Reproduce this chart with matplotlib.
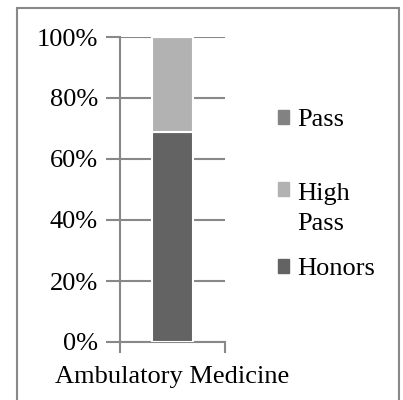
import matplotlib
matplotlib.use("Agg")
import matplotlib.pyplot as plt
from matplotlib.patches import Rectangle, Patch
from matplotlib.legend_handler import HandlerPatch

# data
category = "Ambulatory Medicine"
grades = ["Honors", "High Pass", "Pass"]
shares = [69, 31, 0]
colors = ["#636363", "#b2b2b2", "#828282"]
legend_labels = ["Pass", "High\nPass", "Honors"]
legend_colors = [colors[2], colors[1], colors[0]]

FS = 19
LSP = 1.45
plt.rcParams["font.family"] = ["Liberation Serif", "DejaVu Serif"]
plt.rcParams["font.size"] = FS

fig = plt.figure(figsize=(4.03, 4.0), dpi=100)
ax = fig.add_axes([120 / 403, 1 - 342 / 400, 105 / 403, 305 / 400])

bottom = 0
for g, v, c in zip(grades, shares, colors):
    ax.bar(0, v, width=0.39, bottom=bottom, color=c, edgecolor="white",
           linewidth=1.5, zorder=3, label=g)
    bottom += v

ax.set_xlim(-0.5, 0.5)
ax.set_ylim(0, 100)
ax.set_yticks(range(0, 101, 20))
ax.set_yticklabels([f"{t}%" for t in range(0, 101, 20)])
ax.yaxis.grid(True, color="#888888", linewidth=1.5, zorder=0)

ax.set_xticks([0])
ax.set_xticklabels([category])
ax.set_xticks([-0.5, 0.5], minor=True)
ax.tick_params(axis="x", which="major", length=0, pad=17)
ax.tick_params(axis="x", which="minor", length=8, width=1.5, color="#888888")
ax.tick_params(axis="y", length=10, width=1.5, color="#888888", pad=6)

for s in ["top", "right"]:
    ax.spines[s].set_visible(False)
for s in ["left", "bottom"]:
    ax.spines[s].set_color("#888888")
    ax.spines[s].set_linewidth(1.5)


# legend entries: marker sits on the first text line, entries evenly spaced
def make_handler(nlines):
    def patch_func(legend, orig_handle, xdescent, ydescent, width, height, fontsize):
        shift = (nlines - 1) * LSP * fontsize / 2
        return Rectangle((-xdescent, -ydescent + shift), width, height)
    return HandlerPatch(patch_func=patch_func)


entry_top = [96, 170, 245]
for lab, col, ytop in zip(legend_labels, legend_colors, entry_top):
    leg = fig.legend([Patch(color=col)], [lab], loc="upper left",
                     bbox_to_anchor=(265 / 403, 1 - ytop / 400), frameon=False,
                     handlelength=0.42, handleheight=0.42, handletextpad=0.3,
                     borderpad=0, fontsize=FS,
                     handler_map={Patch: make_handler(lab.count("\n") + 1)})
    for t in leg.get_texts():
        t.set_linespacing(LSP)

fig.add_artist(Rectangle((17 / 403, -0.01), 382 / 403, 1 - 8 / 400 + 0.01,
                         transform=fig.transFigure, fill=False,
                         edgecolor="#888888", linewidth=1.5))

fig.savefig("out.png", dpi=100)
